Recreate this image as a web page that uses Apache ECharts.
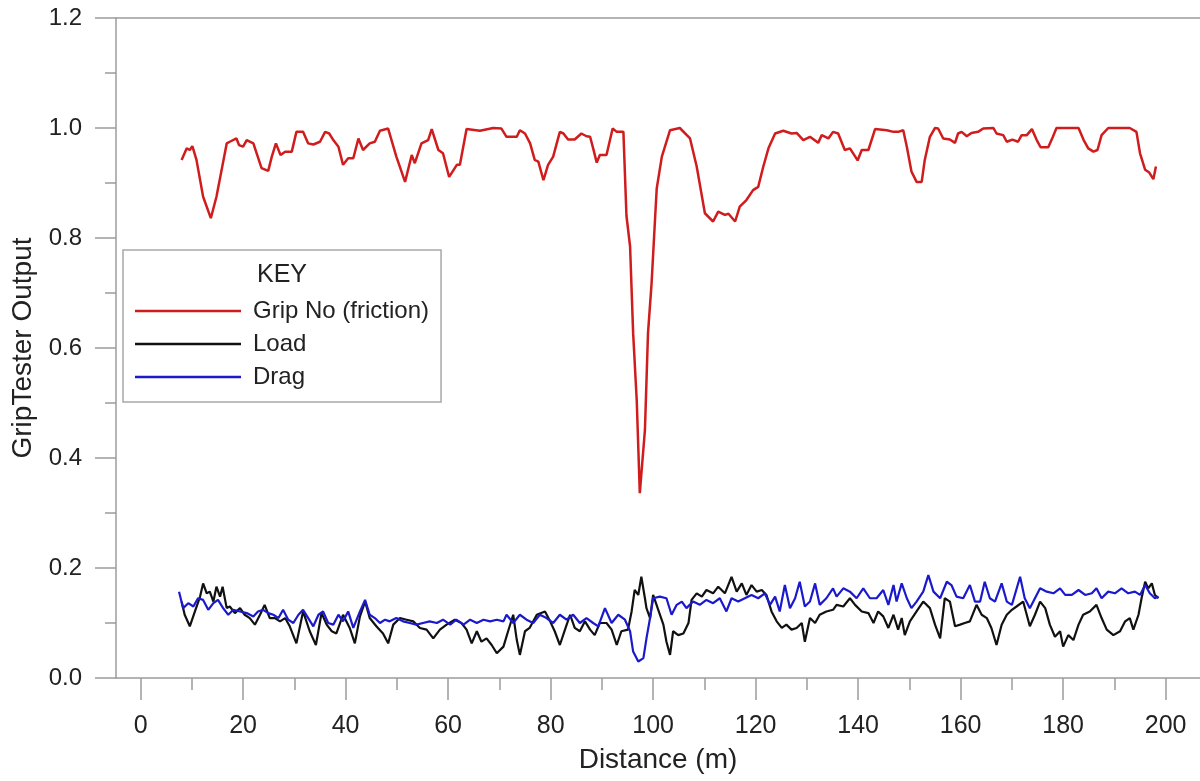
<!DOCTYPE html>
<html>
<head>
<meta charset="utf-8">
<script src="https://cdn.jsdelivr.net/npm/echarts@6/dist/echarts.min.js"></script>
<style>
  html, body { margin: 0; padding: 0; background: #fff; }
  #chart { width: 1200px; height: 781px; }
</style>
</head>
<body>
<div id="chart"></div>
<script>
// distance (m) and value pairs
const gripX = [8.0, 9.0, 9.6, 10.1, 10.9, 12.2, 13.7, 14.8, 16.8, 17.4, 18.7, 19.2, 20.0, 20.7, 22.0, 23.6, 24.9, 25.6, 26.4, 27.3, 28.2, 29.5, 30.4, 31.7, 32.7, 33.7, 35.0, 36.0, 36.8, 37.6, 38.6, 39.5, 40.5, 41.5, 42.5, 43.4, 44.7, 45.7, 46.7, 48.3, 49.9, 51.6, 52.9, 53.5, 54.8, 56.1, 56.8, 58.1, 59.0, 60.2, 61.7, 62.3, 63.6, 66.2, 68.8, 70.4, 71.4, 73.4, 74.0, 75.0, 76.0, 76.9, 77.6, 78.6, 79.5, 80.5, 81.8, 82.5, 83.4, 84.7, 86.0, 87.0, 87.7, 88.3, 89.0, 89.6, 90.9, 92.1, 92.9, 94.2, 94.8, 95.5, 96.1, 96.8, 97.4, 98.4, 99.0, 99.7, 100.4, 100.7, 101.7, 103.3, 105.2, 107.2, 108.5, 110.1, 111.7, 112.7, 114.0, 114.7, 116.0, 116.9, 118.2, 119.5, 120.5, 121.5, 122.5, 123.8, 125.4, 127.0, 128.0, 129.3, 130.6, 132.2, 132.9, 134.2, 135.1, 136.1, 137.4, 138.4, 139.9, 140.7, 142.0, 143.3, 145.6, 146.9, 147.8, 148.8, 149.5, 150.4, 151.4, 152.4, 153.0, 154.0, 155.0, 155.6, 156.6, 157.9, 158.9, 159.5, 160.2, 161.2, 162.1, 163.4, 164.4, 166.4, 167.0, 168.3, 169.0, 170.1, 171.2, 171.9, 172.9, 173.9, 174.8, 175.6, 177.1, 178.0, 178.7, 183.0, 184.0, 184.9, 185.9, 186.7, 187.5, 188.8, 193.0, 194.3, 195.0, 196.0, 196.8, 197.6, 198.1];
const gripY = [0.942, 0.963, 0.960, 0.967, 0.942, 0.875, 0.836, 0.875, 0.972, 0.975, 0.981, 0.969, 0.966, 0.978, 0.972, 0.927, 0.922, 0.948, 0.972, 0.951, 0.957, 0.957, 0.993, 0.993, 0.972, 0.970, 0.975, 0.993, 0.990, 0.978, 0.966, 0.933, 0.945, 0.945, 0.981, 0.960, 0.972, 0.975, 0.995, 0.999, 0.948, 0.902, 0.951, 0.936, 0.972, 0.978, 0.998, 0.960, 0.954, 0.911, 0.933, 0.933, 0.998, 0.995, 1.000, 0.999, 0.984, 0.984, 0.996, 0.990, 0.972, 0.942, 0.939, 0.905, 0.933, 0.948, 0.993, 0.990, 0.979, 0.979, 0.990, 0.985, 0.984, 0.963, 0.937, 0.951, 0.951, 0.999, 0.993, 0.993, 0.840, 0.785, 0.627, 0.505, 0.336, 0.451, 0.627, 0.718, 0.839, 0.890, 0.948, 0.996, 1.000, 0.981, 0.930, 0.845, 0.830, 0.848, 0.842, 0.844, 0.830, 0.857, 0.869, 0.887, 0.893, 0.930, 0.963, 0.990, 0.995, 0.990, 0.991, 0.978, 0.984, 0.973, 0.987, 0.981, 0.993, 0.990, 0.960, 0.963, 0.941, 0.960, 0.960, 0.998, 0.996, 0.993, 0.993, 0.996, 0.966, 0.921, 0.902, 0.902, 0.942, 0.984, 1.000, 0.999, 0.981, 0.979, 0.973, 0.990, 0.993, 0.985, 0.991, 0.993, 0.999, 1.000, 0.990, 0.987, 0.975, 0.979, 0.975, 0.987, 0.987, 0.998, 0.979, 0.965, 0.965, 0.984, 1.000, 1.000, 0.978, 0.963, 0.957, 0.960, 0.987, 1.000, 1.000, 0.993, 0.954, 0.924, 0.919, 0.907, 0.930];

const loadX = [8.0, 8.6, 9.6, 10.6, 11.6, 12.2, 12.9, 13.5, 14.2, 14.8, 15.5, 16.0, 16.8, 17.4, 18.4, 19.4, 20.3, 21.3, 22.3, 23.3, 24.2, 25.2, 26.2, 27.2, 28.2, 29.1, 30.4, 31.7, 33.0, 34.2, 35.3, 36.3, 37.3, 38.2, 39.5, 40.8, 41.8, 42.8, 43.8, 44.7, 46.0, 47.3, 48.3, 49.3, 50.6, 51.9, 53.2, 54.5, 55.8, 57.1, 58.4, 59.7, 61.3, 62.6, 63.6, 64.6, 65.6, 66.5, 67.5, 68.5, 69.5, 70.8, 71.7, 72.7, 73.4, 74.0, 75.0, 75.9, 77.3, 78.9, 79.9, 80.8, 81.8, 82.8, 83.8, 84.7, 85.7, 86.7, 87.7, 88.6, 89.6, 90.9, 91.9, 92.9, 93.8, 95.1, 95.8, 96.4, 97.1, 97.7, 98.4, 98.7, 99.4, 100.0, 101.0, 102.0, 102.6, 103.3, 103.9, 104.9, 105.9, 106.9, 107.5, 108.5, 109.5, 110.4, 111.7, 112.7, 114.0, 115.3, 116.3, 117.3, 118.2, 119.2, 120.2, 121.2, 122.1, 123.1, 124.1, 125.1, 126.0, 127.0, 128.0, 129.0, 129.6, 130.6, 131.6, 132.5, 133.8, 135.1, 135.8, 137.1, 138.4, 139.4, 140.7, 142.0, 143.0, 143.9, 144.9, 145.9, 146.9, 147.8, 148.5, 149.1, 150.1, 151.4, 152.7, 154.0, 155.0, 156.0, 156.9, 157.9, 158.9, 159.9, 160.8, 161.8, 163.1, 164.1, 165.1, 166.0, 167.0, 168.0, 169.0, 170.0, 170.9, 172.2, 173.5, 174.5, 175.5, 176.5, 177.4, 178.4, 179.4, 180.0, 181.0, 182.0, 183.0, 183.9, 185.2, 186.5, 187.5, 188.5, 189.8, 191.1, 192.1, 193.0, 193.7, 194.7, 195.3, 196.0, 196.6, 197.3, 197.9, 198.6];
const loadY = [0.139, 0.115, 0.094, 0.121, 0.148, 0.172, 0.154, 0.157, 0.139, 0.166, 0.148, 0.166, 0.127, 0.130, 0.118, 0.127, 0.115, 0.109, 0.097, 0.115, 0.133, 0.109, 0.109, 0.103, 0.109, 0.094, 0.063, 0.121, 0.085, 0.060, 0.118, 0.097, 0.085, 0.081, 0.115, 0.091, 0.063, 0.112, 0.139, 0.109, 0.094, 0.081, 0.063, 0.097, 0.109, 0.106, 0.103, 0.091, 0.088, 0.072, 0.088, 0.097, 0.106, 0.100, 0.088, 0.063, 0.085, 0.066, 0.072, 0.060, 0.045, 0.057, 0.085, 0.115, 0.069, 0.042, 0.085, 0.091, 0.115, 0.121, 0.103, 0.085, 0.060, 0.088, 0.115, 0.091, 0.085, 0.103, 0.088, 0.078, 0.100, 0.100, 0.088, 0.060, 0.085, 0.088, 0.121, 0.160, 0.151, 0.184, 0.145, 0.127, 0.109, 0.151, 0.124, 0.097, 0.066, 0.042, 0.085, 0.078, 0.081, 0.100, 0.142, 0.154, 0.148, 0.160, 0.154, 0.166, 0.154, 0.184, 0.157, 0.172, 0.151, 0.169, 0.157, 0.160, 0.151, 0.121, 0.103, 0.091, 0.097, 0.088, 0.091, 0.100, 0.066, 0.109, 0.100, 0.115, 0.121, 0.124, 0.133, 0.130, 0.145, 0.133, 0.121, 0.118, 0.100, 0.121, 0.112, 0.091, 0.115, 0.088, 0.109, 0.078, 0.103, 0.121, 0.139, 0.127, 0.097, 0.072, 0.145, 0.139, 0.094, 0.097, 0.100, 0.103, 0.133, 0.115, 0.109, 0.091, 0.060, 0.097, 0.115, 0.124, 0.130, 0.139, 0.094, 0.115, 0.139, 0.127, 0.097, 0.075, 0.085, 0.057, 0.078, 0.069, 0.097, 0.115, 0.121, 0.133, 0.109, 0.088, 0.078, 0.085, 0.103, 0.109, 0.088, 0.115, 0.145, 0.175, 0.163, 0.172, 0.151, 0.145];

const dragX = [7.5, 8.3, 9.3, 10.3, 11.2, 12.2, 13.2, 14.2, 15.1, 16.1, 17.1, 18.1, 19.4, 20.7, 22.0, 22.9, 23.9, 24.9, 25.9, 26.9, 27.8, 28.8, 29.8, 30.8, 31.7, 32.7, 33.7, 34.7, 35.6, 36.6, 37.6, 38.6, 39.5, 40.5, 41.5, 42.8, 43.8, 44.7, 45.7, 46.7, 47.7, 48.6, 49.9, 51.2, 52.5, 53.8, 55.1, 56.4, 57.8, 59.0, 60.4, 61.6, 63.0, 64.3, 65.6, 66.9, 68.2, 69.5, 70.8, 71.4, 72.7, 74.0, 75.3, 76.6, 77.9, 79.2, 80.5, 81.8, 83.1, 84.4, 85.7, 87.0, 88.3, 89.3, 90.6, 91.9, 93.2, 94.5, 95.5, 96.1, 97.1, 98.1, 98.7, 99.4, 100.0, 101.3, 102.6, 103.6, 104.6, 105.6, 106.5, 107.8, 109.1, 110.4, 111.7, 113.0, 114.3, 115.3, 116.6, 117.9, 119.2, 120.5, 121.8, 122.8, 123.8, 124.7, 125.7, 126.7, 127.7, 128.6, 129.6, 130.6, 131.6, 132.5, 133.8, 135.1, 135.8, 137.1, 138.4, 139.7, 141.0, 142.3, 143.6, 144.9, 145.9, 146.9, 147.5, 148.5, 149.5, 150.4, 151.4, 152.7, 153.7, 154.7, 156.0, 157.3, 158.2, 159.2, 160.5, 161.8, 162.8, 163.8, 164.7, 165.7, 166.7, 168.0, 169.0, 170.0, 171.6, 172.5, 173.5, 174.5, 175.5, 176.8, 178.1, 179.4, 180.4, 181.7, 183.0, 184.3, 185.6, 186.5, 187.5, 188.8, 190.1, 191.4, 192.7, 194.0, 195.0, 196.0, 196.9, 197.9, 198.6];
const dragY = [0.157, 0.127, 0.136, 0.130, 0.145, 0.142, 0.124, 0.136, 0.142, 0.127, 0.115, 0.124, 0.121, 0.118, 0.112, 0.121, 0.124, 0.118, 0.115, 0.109, 0.124, 0.106, 0.100, 0.115, 0.124, 0.109, 0.094, 0.115, 0.121, 0.100, 0.097, 0.115, 0.103, 0.121, 0.091, 0.121, 0.142, 0.115, 0.109, 0.100, 0.106, 0.103, 0.109, 0.103, 0.100, 0.097, 0.100, 0.103, 0.100, 0.106, 0.097, 0.106, 0.097, 0.106, 0.100, 0.106, 0.103, 0.106, 0.103, 0.115, 0.100, 0.115, 0.106, 0.100, 0.115, 0.109, 0.100, 0.115, 0.106, 0.115, 0.100, 0.109, 0.100, 0.094, 0.127, 0.100, 0.115, 0.106, 0.085, 0.048, 0.030, 0.036, 0.072, 0.109, 0.145, 0.148, 0.145, 0.115, 0.133, 0.139, 0.127, 0.139, 0.133, 0.142, 0.136, 0.145, 0.121, 0.145, 0.139, 0.145, 0.151, 0.145, 0.154, 0.133, 0.148, 0.121, 0.169, 0.127, 0.145, 0.175, 0.130, 0.139, 0.172, 0.133, 0.145, 0.163, 0.148, 0.163, 0.157, 0.145, 0.163, 0.145, 0.145, 0.160, 0.133, 0.169, 0.139, 0.172, 0.145, 0.127, 0.139, 0.157, 0.187, 0.157, 0.145, 0.175, 0.169, 0.148, 0.145, 0.169, 0.139, 0.139, 0.175, 0.145, 0.139, 0.172, 0.139, 0.133, 0.184, 0.145, 0.127, 0.145, 0.163, 0.157, 0.154, 0.163, 0.151, 0.151, 0.160, 0.151, 0.154, 0.163, 0.145, 0.157, 0.154, 0.163, 0.154, 0.157, 0.151, 0.169, 0.154, 0.145, 0.148];

const seriesNames = ['Grip No (friction)', 'Load', 'Drag'];
const xMajorTicks = [0, 20, 40, 60, 80, 100, 120, 140, 160, 180, 200];
const xMinorTicks = [10, 30, 50, 70, 90, 110, 130, 150, 170, 190];

const zip = (xs, ys) => xs.map((x, i) => [x, ys[i]]);

const axisGrey = '#9c9c9c';
const font = 'Liberation Sans, Arial, sans-serif';

const chart = echarts.init(document.getElementById('chart'));

chart.setOption({
  animation: false,
  backgroundColor: '#fff',
  grid: { left: 116, right: 0, top: 18, bottom: 103 },
  title: {
    text: 'KEY',
    left: 257,
    top: 263,
    padding: 0,
    textStyle: { fontFamily: font, fontSize: 25, fontWeight: 'normal', color: '#222' }
  },
  legend: {
    data: seriesNames,
    orient: 'vertical',
    left: 123,
    top: 250,
    padding: [49, 12, 13, 12],
    icon: 'rect',
    itemWidth: 106,
    itemHeight: 2.5,
    itemGap: 9,
    borderColor: '#a8a8a8',
    borderWidth: 1.5,
    borderRadius: 0,
    backgroundColor: '#fff',
    textStyle: { fontFamily: font, fontSize: 24, color: '#222', lineHeight: 24, padding: [0, 0, 0, 7] }
  },
  xAxis: [
    {
      type: 'value',
      min: -4.8,
      max: 206.7,
      position: 'bottom',
      name: 'Distance (m)',
      nameLocation: 'middle',
      nameGap: 68,
      nameTextStyle: { fontFamily: font, fontSize: 28, color: '#222' },
      splitLine: { show: false },
      axisLine: { show: true, onZero: false, lineStyle: { color: axisGrey, width: 1.5 } },
      axisTick: { show: true, inside: false, length: 22, customValues: xMajorTicks, lineStyle: { color: axisGrey, width: 1.5 } },
      axisLabel: { customValues: xMajorTicks, margin: 36, fontFamily: font, fontSize: 25, color: '#222' }
    },
    {
      type: 'value',
      min: -4.8,
      max: 206.7,
      position: 'bottom',
      gridIndex: 0,
      splitLine: { show: false },
      axisLine: { show: false, onZero: false },
      axisTick: { show: true, inside: false, length: 12, customValues: xMinorTicks, lineStyle: { color: axisGrey, width: 1.5 } },
      axisLabel: { show: false }
    },
    {
      type: 'value',
      min: -4.8,
      max: 206.7,
      position: 'top',
      gridIndex: 0,
      splitLine: { show: false },
      axisLine: { show: true, onZero: false, lineStyle: { color: axisGrey, width: 1.5 } },
      axisTick: { show: false },
      axisLabel: { show: false }
    }
  ],
  yAxis: {
    type: 'value',
    min: 0,
    max: 1.2,
    interval: 0.2,
    name: 'GripTester Output',
    nameLocation: 'middle',
    nameGap: 76,
    nameTextStyle: { fontFamily: font, fontSize: 28, color: '#222' },
    splitLine: { show: false },
    axisLine: { show: true, onZero: false, lineStyle: { color: axisGrey, width: 1.5 } },
    axisTick: { show: true, inside: false, length: 21, lineStyle: { color: axisGrey, width: 1.5 } },
    minorTick: { show: true, splitNumber: 2, length: 11, lineStyle: { color: axisGrey, width: 1.5 } },
    axisLabel: { margin: 34, fontFamily: font, fontSize: 24, color: '#222', formatter: v => v.toFixed(1) }
  },
  series: [
    {
      name: seriesNames[0],
      type: 'line',
      symbol: 'none',
      data: zip(gripX, gripY),
      lineStyle: { color: '#d01c1c', width: 2.5 },
      itemStyle: { color: '#d01c1c' }
    },
    {
      name: seriesNames[1],
      type: 'line',
      symbol: 'none',
      data: zip(loadX, loadY),
      lineStyle: { color: '#111111', width: 2.2 },
      itemStyle: { color: '#111111' }
    },
    {
      name: seriesNames[2],
      type: 'line',
      symbol: 'none',
      data: zip(dragX, dragY),
      lineStyle: { color: '#1a1acc', width: 2.2 },
      itemStyle: { color: '#1a1acc' }
    }
  ]
});
</script>
</body>
</html>
